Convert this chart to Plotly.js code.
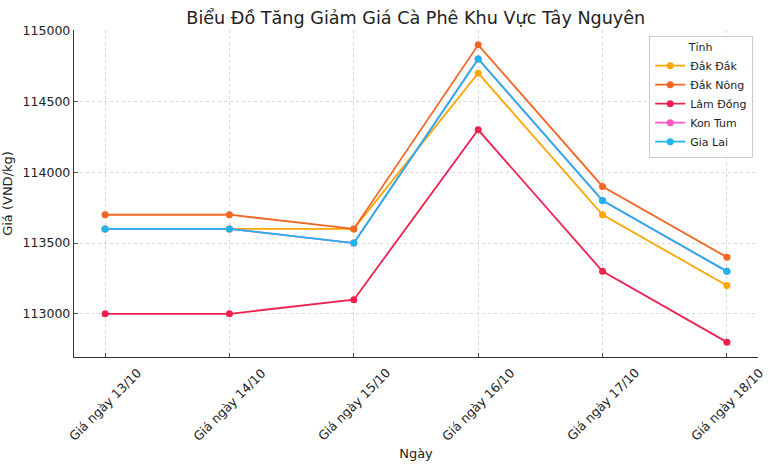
<!DOCTYPE html>
<html>
<head>
<meta charset="utf-8">
<script src="https://cdn.plot.ly/plotly-3.0.1.min.js"></script>
<style>html,body{margin:0;padding:0;background:#fff;}#chart{width:770px;height:469px;}</style>
</head>
<body>
<div id="chart"></div>
<script>
const days = ["Giá ngày 13/10", "Giá ngày 14/10", "Giá ngày 15/10", "Giá ngày 16/10", "Giá ngày 17/10", "Giá ngày 18/10"];
const provinces = ["Đắk Đắk", "Đắk Nông", "Lâm Đồng", "Kon Tum", "Gia Lai"];
const dakDak   = [113600, 113600, 113600, 114700, 113700, 113200];
const dakNong  = [113700, 113700, 113600, 114900, 113900, 113400];
const lamDong  = [113000, 113000, 113100, 114300, 113300, 112800];
const konTum   = [113600, 113600, 113500, 114800, 113800, 113300];
const giaLai   = [113600, 113600, 113500, 114800, 113800, 113300];
const yTicks = [113000, 113500, 114000, 114500, 115000];

const series = [dakDak, dakNong, lamDong, konTum, giaLai];
const colors = ["#ffa500", "#f26522", "#f0204f", "#ff55c3", "#1eb4f0"];

const traces = series.map((vals, i) => ({
  x: days, y: vals, name: provinces[i], type: "scatter", mode: "lines+markers",
  line: {color: colors[i], width: 1.8},
  marker: {color: colors[i], size: 7}
}));

const font = "DejaVu Sans, sans-serif";

// rotated category labels centred under each tick (like the reference)
const tickAnnotations = days.map(d => ({
  x: d, xref: "x", y: 0, yref: "paper", yshift: -5,
  xanchor: "center", yanchor: "top", textangle: -45,
  text: d, showarrow: false, font: {size: 12.5, family: font, color: "#222"}
}));

const layout = {
  width: 770, height: 469,
  margin: {l: 74, r: 12, t: 30, b: 112},
  paper_bgcolor: "#fff", plot_bgcolor: "#fff",
  font: {family: font, color: "#222", size: 12.5},
  title: {text: "Biểu Đồ Tăng Giảm Giá Cà Phê Khu Vực Tây Nguyên", font: {size: 17.6, family: font, color: "#222"}, x: 0.54, xanchor: "center", y: 0.962, yanchor: "middle"},
  xaxis: {
    type: "category", range: [-0.25, 5.25],
    title: {text: "Ngày", font: {size: 13}, standoff: 91},
    showticklabels: false,
    ticks: "inside", ticklen: 4, tickcolor: "#555",
    showline: true, linecolor: "#333", linewidth: 1.2,
    showgrid: true, gridcolor: "#cfcfcf", griddash: "dot", gridwidth: 0.8,
    zeroline: false
  },
  yaxis: {
    range: [112695, 115005], tickvals: yTicks, ticktext: yTicks.map(String),
    title: {text: "Giá (VND/kg)", font: {size: 13}, standoff: 8},
    ticks: "inside", ticklen: 4, tickcolor: "#555",
    showline: true, linecolor: "#333", linewidth: 1.2,
    showgrid: true, gridcolor: "#cfcfcf", griddash: "dot", gridwidth: 0.8,
    zeroline: false, tickfont: {size: 12.5}
  },
  legend: {
    x: 0.993, y: 0.982, xanchor: "right", yanchor: "top",
    bgcolor: "rgba(255,255,255,0.9)", bordercolor: "#cccccc", borderwidth: 1,
    font: {size: 11, family: font},
    title: {text: "Tỉnh", side: "top center", font: {size: 11}},
    tracegroupgap: 0, itemwidth: 30
  },
  annotations: tickAnnotations,
  showlegend: true
};

Plotly.newPlot("chart", traces, layout, {displayModeBar: false, staticPlot: true});
</script>
</body>
</html>
